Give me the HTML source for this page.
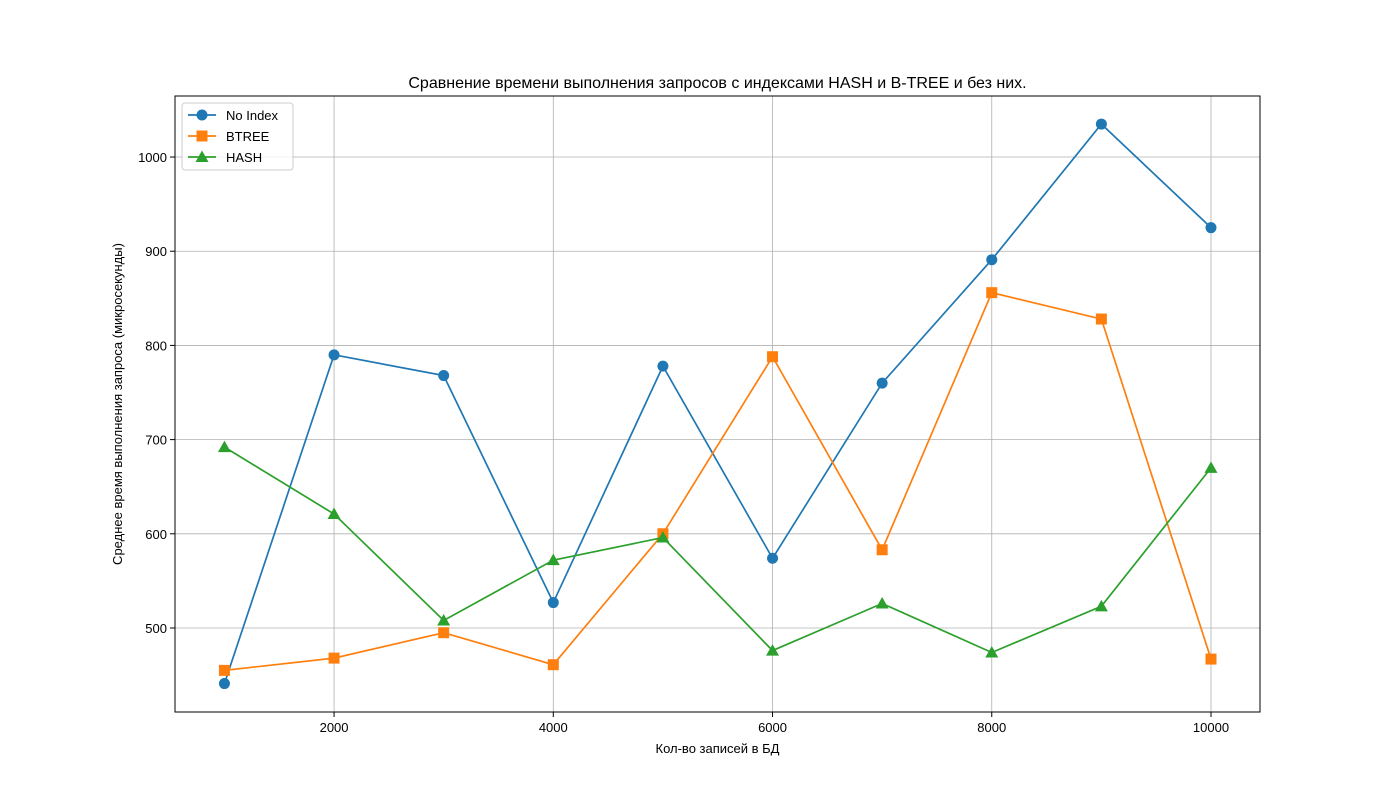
<!DOCTYPE html>
<html><head><meta charset="utf-8"><style>
html,body{margin:0;padding:0;background:#fff;}
svg{display:block;font-family:"Liberation Sans","DejaVu Sans",sans-serif;}
</style></head><body>
<svg id="chart" width="1400" height="800" xmlns="http://www.w3.org/2000/svg"></svg>
<script>
const categories=[1000,2000,3000,4000,5000,6000,7000,8000,9000,10000];
const noIndex=[441,790,768,527,778,574,760,891,1035,925];
const btree=[455,468,495,461,600,788,583,856,828,467];
const hash=[692,621,508,572,596,476,526,474,523,670];
const xTicks=[2000,4000,6000,8000,10000];
const yTicks=[500,600,700,800,900,1000];
const seriesNames=["No Index","BTREE","HASH"];

const L=175,R=1260,T=96,B=712;
const xMin=549,xMax=10447,yMin=410.8,yMax=1064.8;
const xs=v=>L+(v-xMin)/(xMax-xMin)*(R-L);
const ys=v=>B-(v-yMin)/(yMax-yMin)*(B-T);
const svg=document.getElementById('chart');
const NS="http://www.w3.org/2000/svg";
function mk(tag,attrs,parent){const e=document.createElementNS(NS,tag);for(const k in attrs)e.setAttribute(k,attrs[k]);(parent||svg).appendChild(e);return e;}

// grid
xTicks.forEach(t=>{const g=mk('line',{x1:xs(t),x2:xs(t),y1:T,y2:B,stroke:'#b0b0b0','stroke-width':0.8});

});
yTicks.forEach(t=>{const g=mk('line',{x1:L,x2:R,y1:ys(t),y2:ys(t),stroke:'#b0b0b0','stroke-width':0.8});

});

// ticks & labels
xTicks.forEach(t=>{mk('line',{x1:xs(t),x2:xs(t),y1:B,y2:B+5,stroke:'#000'});
const tx=mk('text',{x:xs(t),y:B+20,'text-anchor':'middle','font-size':13});tx.textContent=t;

});
yTicks.forEach(t=>{mk('line',{x1:L-5,x2:L,y1:ys(t),y2:ys(t),stroke:'#000'});
const tx=mk('text',{x:L-8,y:ys(t)+5,'text-anchor':'end','font-size':13});tx.textContent=t;

});

const colors=['#1f77b4','#ff7f0e','#2ca02c'];
const data=[noIndex,btree,hash];
function marker(i,x,y,parent){
 let m;
 if(i===0) m=mk('circle',{cx:x,cy:y,r:5.5,fill:colors[0]},parent);
 else if(i===1) m=mk('rect',{x:x-5.5,y:y-5.5,width:11,height:11,fill:colors[1]},parent);
 else m=mk('polygon',{points:`${x},${y-6.5} ${x-6.5},${y+5} ${x+6.5},${y+5}`,fill:colors[2]},parent);
 return m;
}
data.forEach((arr,i)=>{
 const g=mk('g',{});
 
 
 mk('polyline',{points:arr.map((v,j)=>xs(categories[j])+','+ys(v)).join(' '),fill:'none',stroke:colors[i],'stroke-width':1.7},g);
 arr.forEach((v,j)=>{const m=marker(i,xs(categories[j]),ys(v),g);
 
 });
});

// frame
const fr=mk('rect',{x:L,y:T,width:R-L,height:B-T,fill:'none',stroke:'#000','stroke-width':1});



// titles
const tt=mk('text',{x:(L+R)/2,y:88,'text-anchor':'middle','font-size':16});tt.textContent='Сравнение времени выполнения запросов с индексами HASH и B-TREE и без них.';


const xt=mk('text',{x:(L+R)/2,y:753,'text-anchor':'middle','font-size':13});xt.textContent='Кол-во записей в БД';


const yt=mk('text',{x:122,y:404,'text-anchor':'middle','font-size':13,transform:'rotate(-90 122 404)'});yt.textContent='Среднее время выполнения запроса (микросекунды)';



// legend
const lg=mk('g',{});


mk('rect',{x:182,y:103,width:111,height:67,rx:3,fill:'#fff','fill-opacity':0.8,stroke:'#ccc'},lg);
seriesNames.forEach((n,i)=>{
 const y=115+i*21;
 mk('line',{x1:188,x2:216,y1:y,y2:y,stroke:colors[i],'stroke-width':1.7},lg);
 marker(i,202,y,lg);
 const t=mk('text',{x:226,y:y+5,'font-size':13},lg);t.textContent=n;
 
 
});
</script>
</body></html>
